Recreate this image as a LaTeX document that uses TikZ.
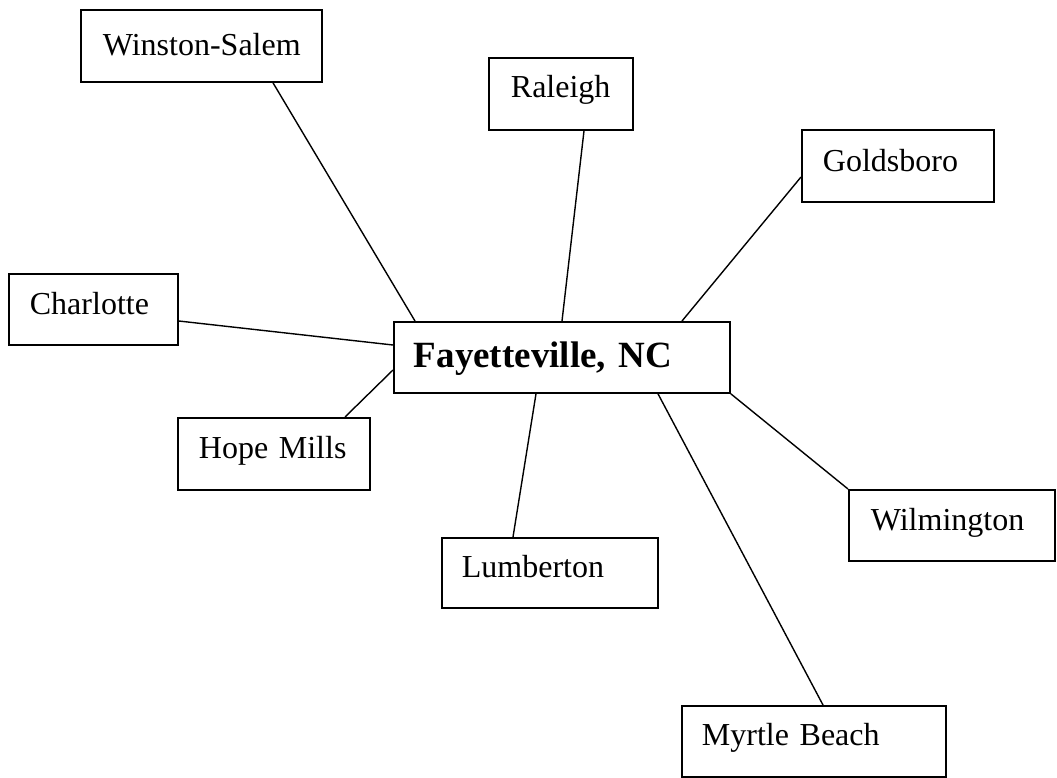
\documentclass[tikz,border=0pt]{standalone}
\usepackage{fontspec}
\setmainfont{Liberation Serif}
\begin{document}
\begin{tikzpicture}[x=1pt,y=-1pt,
  city/.style={draw, line width=1.8pt, inner sep=0pt, anchor=north west, align=left,
    font=\fontsize{32}{38}\selectfont},
  hub/.style={city, font=\fontsize{37}{44}\selectfont\bfseries},
  link/.style={line width=1.4pt}]
\useasboundingbox (0,0) rectangle (1057,777);
% name, left, top, width, baseline-top, bottom-baseline, indent
\node[city, text width=241pt, text height=46pt, text depth=26pt] (ws) at (80,9) {\hspace*{22pt}Winston-Salem};
\node[city, text width=144pt, text height=40pt, text depth=32pt] (ral) at (488,57) {\hspace*{22pt}Raleigh};
\node[city, text width=192pt, text height=42pt, text depth=30pt] (gold) at (801,129) {\hspace*{21pt}Goldsboro};
\node[city, text width=169pt, text height=41pt, text depth=30pt] (char) at (8,273) {\hspace*{21pt}Charlotte};
\node[hub, text width=336pt, text height=46pt, text depth=25pt] (fay) at (393,321) {\hspace*{20pt}Fayetteville, NC};
\node[city, text width=192pt, text height=41pt, text depth=31pt] (hope) at (177,417) {\hspace*{21pt}Hope Mills};
\node[city, text width=216pt, text height=40pt, text depth=30pt] (lum) at (441,537) {\hspace*{20pt}Lumberton};
\node[city, text width=206pt, text height=41pt, text depth=30pt] (wil) at (848,489) {\hspace*{22pt}Wilmington};
\node[city, text width=264pt, text height=40pt, text depth=31pt] (myr) at (681,705) {\hspace*{20pt}Myrtle Beach};
% connectors
\draw[link] ([xshift=193pt]ws.south west) -- ([xshift=22pt]fay.north west);
\draw[link] ([xshift=96pt]ral.south west) -- ([xshift=169pt]fay.north west);
\draw[link] ([yshift=-48pt]gold.north west) -- ([xshift=289pt]fay.north west);
\draw[link] ([yshift=-48pt]char.north east) -- ([yshift=-24pt]fay.north west);
\draw[link] ([xshift=168pt]hope.north west) -- ([yshift=-49pt]fay.north west);
\draw[link] ([xshift=72pt]lum.north west) -- ([xshift=143pt]fay.south west);
\draw[link] ([xshift=142pt]myr.north west) -- ([xshift=265pt]fay.south west);
\draw[link] (wil.north west) -- (fay.south east);
\end{tikzpicture}
\end{document}
